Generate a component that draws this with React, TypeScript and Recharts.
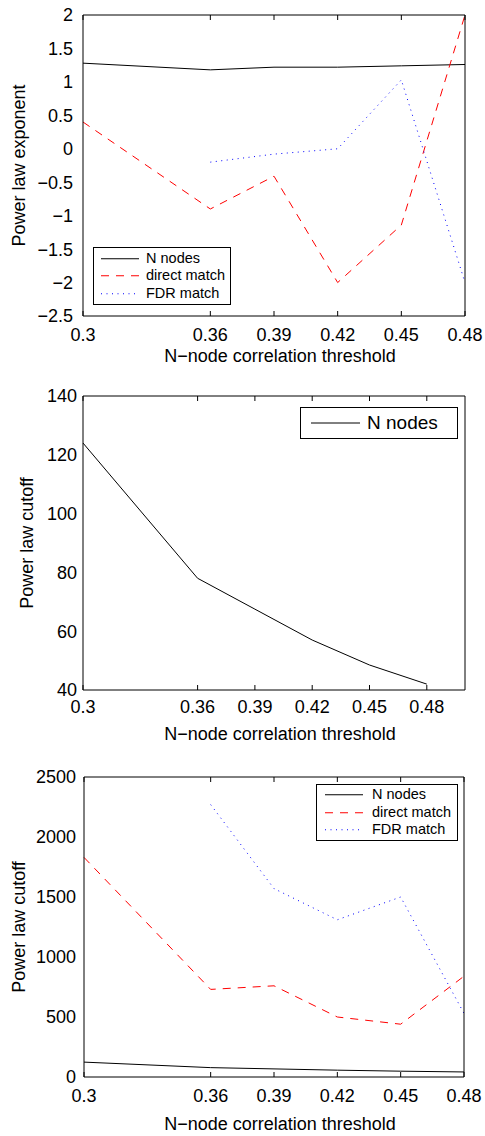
import { LineChart, Line, XAxis, YAxis, Label, Legend } from "recharts";

const THRESHOLDS = [0.3, 0.36, 0.39, 0.42, 0.45, 0.48];

const EXPONENT_N_NODES = [1.28, 1.18, 1.22, 1.22, 1.24, 1.26];
const EXPONENT_DIRECT = [0.4, -0.9, -0.41, -2.0, -1.14, 2.0];
const EXPONENT_FDR = [null, -0.2, -0.08, 0.0, 1.03, -2.0];

const CUTOFF_N_NODES = [124, 78, 67.5, 57, 48.5, 42];
const CUTOFF_DIRECT = [1830, 730, 760, 500, 440, 840];
const CUTOFF_FDR = [null, 2270, 1570, 1310, 1500, 530];

const EXPONENT_TICKS = [-2.5, -2, -1.5, -1, -0.5, 0, 0.5, 1, 1.5, 2];
const SMALL_CUTOFF_TICKS = [40, 60, 80, 100, 120, 140];
const LARGE_CUTOFF_TICKS = [0, 500, 1000, 1500, 2000, 2500];

const X_TITLE = "N\u2212node correlation threshold";
const FONT = '"Liberation Sans", Arial, Helvetica, sans-serif';

interface Series {
  key: string;
  name: string;
  color: string;
  dash?: string;
  values: (number | null)[];
}

const nNodes = (values: (number | null)[]): Series => ({
  key: "nNodes",
  name: "N nodes",
  color: "#000000",
  values,
});
const direct = (values: (number | null)[]): Series => ({
  key: "direct",
  name: "direct match",
  color: "#ff0000",
  dash: "8 7",
  values,
});
const fdr = (values: (number | null)[]): Series => ({
  key: "fdr",
  name: "FDR match",
  color: "#0000ff",
  dash: "1 4.5",
  values,
});

interface LegendLayout {
  left: number;
  top: number;
  width: number;
  height: number;
  padLeft: number;
  sample: number;
  gap: number;
  fontSize: number;
  rowHeight: number;
}

interface PanelProps {
  height: number;
  margin: { top: number; right: number; bottom: number; left: number };
  xAxisHeight: number;
  yAxisWidth: number;
  xDomain: [number, number];
  yDomain: [number, number];
  yTicks: number[];
  yLabel: string;
  xTickGap: number;
  yTickGap: number;
  xTitleOffset: number;
  yTitleOffset: number;
  series: Series[];
  legend: LegendLayout;
}

const minus = (v: number) => String(v).replace("-", "\u2212");

// tick marks only, no text (for the inner box ticks)
const NoLabel = () => <g />;

function LegendBox({ series, layout }: { series: Series[]; layout: LegendLayout }) {
  const h = layout.rowHeight;
  return (
    <div
      style={{
        boxSizing: "border-box",
        width: layout.width,
        height: layout.height,
        border: "1px solid #000",
        background: "#fff",
        display: "flex",
        flexDirection: "column",
        justifyContent: "center",
        paddingLeft: layout.padLeft,
        fontFamily: FONT,
      }}
    >
      {series.map((s) => (
        <div key={s.key} style={{ display: "flex", alignItems: "center", height: h }}>
          <svg width={layout.sample} height={h} style={{ display: "block" }}>
            <line
              x1={0}
              y1={h / 2}
              x2={layout.sample}
              y2={h / 2}
              stroke={s.color}
              strokeWidth={1}
              strokeDasharray={s.dash}
            />
          </svg>
          <span
            style={{
              marginLeft: layout.gap,
              fontSize: layout.fontSize,
              lineHeight: `${h}px`,
              color: "#000",
              whiteSpace: "nowrap",
            }}
          >
            {s.name}
          </span>
        </div>
      ))}
    </div>
  );
}

function Panel(p: PanelProps) {
  const rows = THRESHOLDS.map((x, i) => {
    const row: Record<string, number | null> = { x };
    p.series.forEach((s) => {
      row[s.key] = s.values[i];
    });
    return row;
  });

  return (
    <LineChart width={485} height={p.height} data={rows} margin={p.margin}>
      <XAxis
        dataKey="x"
        type="number"
        domain={p.xDomain}
        ticks={THRESHOLDS}
        interval={0}
        height={p.xAxisHeight}
        stroke="#000"
        tickLine={false}
        tickSize={0}
        tickMargin={p.xTickGap}
        tick={{ fill: "#000", fontSize: 18 }}
      >
        <Label
          value={X_TITLE}
          position="insideBottom"
          offset={p.xTitleOffset}
          dx={6}
          style={{ fill: "#000", fontSize: 18 }}
        />
      </XAxis>
      <XAxis
        xAxisId="bottomTicks"
        dataKey="x"
        type="number"
        domain={p.xDomain}
        ticks={THRESHOLDS}
        interval={0}
        mirror
        axisLine={false}
        tick={NoLabel}
        tickLine={{ stroke: "#000" }}
        tickSize={5}
        stroke="#000"
      />
      <XAxis
        xAxisId="top"
        orientation="top"
        dataKey="x"
        type="number"
        domain={p.xDomain}
        ticks={THRESHOLDS}
        interval={0}
        mirror
        tick={NoLabel}
        tickLine={{ stroke: "#000" }}
        tickSize={5}
        stroke="#000"
      />
      <YAxis
        type="number"
        domain={p.yDomain}
        ticks={p.yTicks}
        interval={0}
        width={p.yAxisWidth}
        stroke="#000"
        tickLine={false}
        tickSize={0}
        tickMargin={p.yTickGap}
        tick={{ fill: "#000", fontSize: 18 }}
        tickFormatter={minus}
      >
        <Label
          value={p.yLabel}
          angle={-90}
          position="insideLeft"
          offset={p.yTitleOffset}
          style={{ textAnchor: "middle", fill: "#000", fontSize: 18 }}
        />
      </YAxis>
      <YAxis
        yAxisId="leftTicks"
        type="number"
        domain={p.yDomain}
        ticks={p.yTicks}
        interval={0}
        mirror
        axisLine={false}
        tick={NoLabel}
        tickLine={{ stroke: "#000" }}
        tickSize={5}
        stroke="#000"
      />
      <YAxis
        yAxisId="right"
        orientation="right"
        type="number"
        domain={p.yDomain}
        ticks={p.yTicks}
        interval={0}
        mirror
        tick={NoLabel}
        tickLine={{ stroke: "#000" }}
        tickSize={5}
        stroke="#000"
      />
      {p.series.map((s) => (
        <Line
          key={s.key}
          dataKey={s.key}
          name={s.name}
          type="linear"
          stroke={s.color}
          strokeWidth={1}
          strokeDasharray={s.dash}
          dot={false}
          activeDot={false}
          connectNulls={false}
          isAnimationActive={false}
        />
      ))}
      <Legend
        layout="vertical"
        align="center"
        verticalAlign="middle"
        wrapperStyle={{
          left: p.legend.left,
          top: p.legend.top,
          width: p.legend.width,
          height: p.legend.height,
        }}
        content={() => <LegendBox series={p.series} layout={p.legend} />}
      />
    </LineChart>
  );
}

export default function App() {
  return (
    <div
      style={{
        position: "absolute",
        left: 0,
        top: 0,
        width: 485,
        height: 1136,
        background: "#fff",
        fontFamily: FONT,
      }}
    >
      <Panel
        height={380}
        margin={{ top: 15, right: 20, bottom: 14, left: 0 }}
        xAxisHeight={50}
        yAxisWidth={83}
        xDomain={[0.3, 0.48]}
        yDomain={[-2.5, 2]}
        yTicks={EXPONENT_TICKS}
        yLabel="Power law exponent"
        xTickGap={12}
        yTickGap={10}
        xTitleOffset={4}
        yTitleOffset={19}
        series={[
          nNodes(EXPONENT_N_NODES),
          direct(EXPONENT_DIRECT),
          fdr(EXPONENT_FDR),
        ]}
        legend={{
          left: 93,
          top: 247,
          width: 138,
          height: 58,
          padLeft: 7,
          sample: 38,
          gap: 7,
          fontSize: 14.5,
          rowHeight: 17.5,
        }}
      />
      <Panel
        height={380}
        margin={{ top: 16, right: 20, bottom: 20, left: 0 }}
        xAxisHeight={50}
        yAxisWidth={83}
        xDomain={[0.3, 0.5]}
        yDomain={[40, 140]}
        yTicks={SMALL_CUTOFF_TICKS}
        yLabel="Power law cutoff"
        xTickGap={10}
        yTickGap={6}
        xTitleOffset={0}
        yTitleOffset={27}
        series={[nNodes(CUTOFF_N_NODES)]}
        legend={{
          left: 300,
          top: 27,
          width: 158,
          height: 32,
          padLeft: 10,
          sample: 49,
          gap: 7,
          fontSize: 19,
          rowHeight: 30,
        }}
      />
      <Panel
        height={376}
        margin={{ top: 17, right: 21, bottom: 3, left: 0 }}
        xAxisHeight={56}
        yAxisWidth={84}
        xDomain={[0.3, 0.48]}
        yDomain={[0, 2500]}
        yTicks={LARGE_CUTOFF_TICKS}
        yLabel="Power law cutoff"
        xTickGap={12}
        yTickGap={8}
        xTitleOffset={3}
        yTitleOffset={19}
        series={[
          nNodes(CUTOFF_N_NODES),
          direct(CUTOFF_DIRECT),
          fdr(CUTOFF_FDR),
        ]}
        legend={{
          left: 316,
          top: 24,
          width: 142,
          height: 57,
          padLeft: 8,
          sample: 38,
          gap: 9,
          fontSize: 14.5,
          rowHeight: 17.5,
        }}
      />
    </div>
  );
}
